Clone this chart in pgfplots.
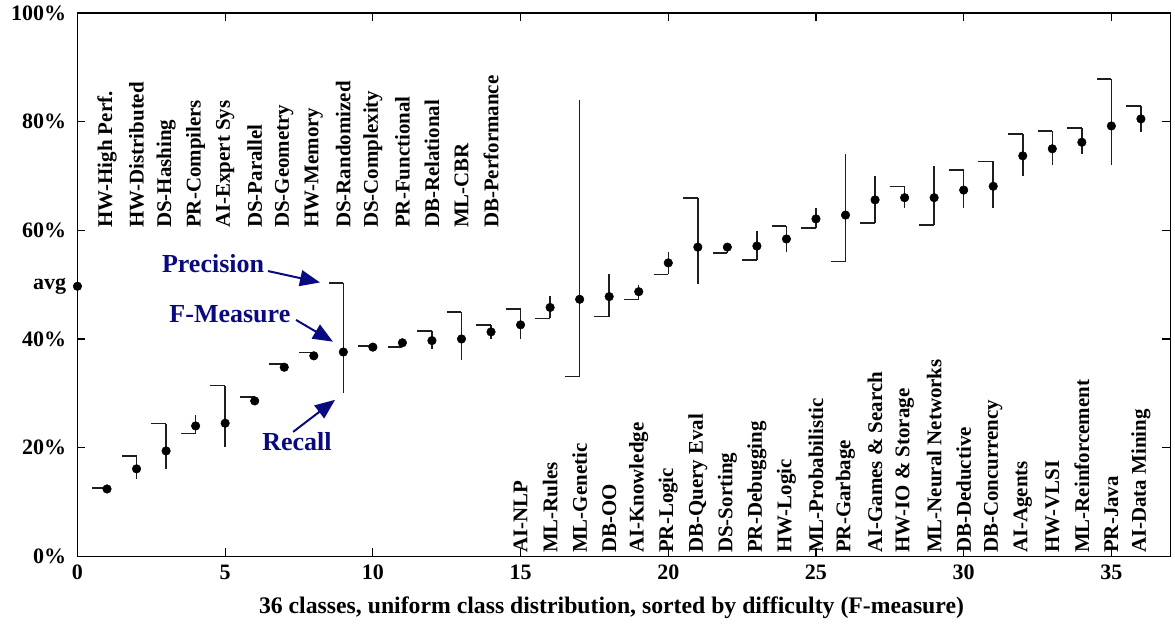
\documentclass[border=0pt]{standalone}
\usepackage{fontspec}
\setmainfont{Liberation Serif}
\usepackage{pgfplots}
\usepackage{pgfplotstable}
\pgfplotsset{compat=1.18}
\usetikzlibrary{arrows.meta}
\definecolor{annot}{RGB}{10,10,128}
\definecolor{barc}{RGB}{30,30,30}

\pgfplotstableread{
x P F R
1 12.6 12.4 12.3
2 18.5 16.1 14.3
3 24.4 19.4 16.1
4 22.6 24.0 26.1
5 31.4 24.5 20.1
6 29.3 28.6 28.2
7 35.4 34.8 34.4
8 37.5 36.9 36.4
9 50.3 37.6 30.1
10 38.7 38.5 38.3
11 38.5 39.3 40.0
12 41.5 39.7 38.1
13 45.0 40.0 36.1
14 42.6 41.3 40.0
15 45.5 42.6 40.0
16 43.8 45.8 48.0
17 33.1 47.3 84.0
18 44.1 47.8 52.0
19 47.3 48.7 50.0
20 51.9 54.0 56.0
21 65.9 56.9 50.1
22 55.8 56.9 57.6
23 54.5 57.1 59.9
24 60.8 58.4 56.0
25 60.4 62.1 64.1
26 54.3 62.8 74.0
27 61.3 65.6 70.0
28 68.1 66.0 64.1
29 61.0 66.0 71.8
30 71.1 67.4 64.1
31 72.7 68.1 64.1
32 77.7 73.7 70.0
33 78.3 75.0 72.0
34 78.8 76.2 74.0
35 87.8 79.2 72.0
36 82.9 80.5 78.1
}\data

\begin{document}
\begin{tikzpicture}[font=\bfseries]
\begin{axis}[
  scale only axis,
  width=819.75pt, height=407.55pt,
  xmin=0, xmax=37, ymin=0, ymax=100,
  clip=false,
  axis line style={line width=1.1pt},
  tick style={line width=0.9pt, black},
  major tick length=6pt,
  xtick={0,5,...,35},
  ytick={0,20,...,100},
  yticklabel={\pgfmathprintnumber{\tick}\%},
  extra y ticks={49.7},
  extra y tick labels={avg},
  extra y tick style={major tick length=0pt},
  /pgf/number format/assume math mode=true,
  ticklabel style={font=\fontsize{16.5}{19}\selectfont\bfseries},
  xticklabel style={yshift=-3pt},
  yticklabel style={xshift=-5pt},
  xlabel={36 classes, uniform class distribution, sorted by difficulty (F-measure)},
  xlabel style={font=\fontsize{17.8}{21}\selectfont\bfseries, at={(axis description cs:0.4886,0)}, anchor=center, yshift=-38.7pt},
]
% precision ticks (short horizontal segment to the left of the precision end)
\addplot[draw=none, mark=none, forget plot,
  error bars/.cd, x dir=minus, x fixed=0.5, error mark=none,
  error bar style={draw=barc, line width=1.1pt}]
  table[x=x, y=P] {\data};
% vertical precision-recall lines
\addplot[draw=none, mark=none, forget plot,
  error bars/.cd, y dir=both, y explicit, error mark=none,
  error bar style={draw=barc, line width=1.1pt}]
  table[x=x, y=F,
    y error plus expr={max(\thisrow{P},\thisrow{R})-\thisrow{F}},
    y error minus expr={\thisrow{F}-min(\thisrow{P},\thisrow{R})}] {\data};
% F-measure dots
\addplot[black, only marks, mark=*, mark size=3.2pt] table[x=x, y=F] {\data};
% average
\addplot[black, only marks, mark=*, mark size=3.2pt] coordinates {(0,49.7)};

\begin{scope}[every node/.style={rotate=90, anchor=west, inner sep=0pt, font=\fontsize{15.7}{18}\selectfont\bfseries}]
\node at (axis cs:1,60.4) {HW-High Perf.};
\node at (axis cs:2,60.4) {HW-Distributed};
\node at (axis cs:3,60.4) {DS-Hashing};
\node at (axis cs:4,60.4) {PR-Compilers};
\node at (axis cs:5,60.4) {AI-Expert Sys};
\node at (axis cs:6,60.4) {DS-Parallel};
\node at (axis cs:7,60.4) {DS-Geometry};
\node at (axis cs:8,60.4) {HW-Memory};
\node at (axis cs:9,60.4) {DS-Randomized};
\node at (axis cs:10,60.4) {DS-Complexity};
\node at (axis cs:11,60.4) {PR-Functional};
\node at (axis cs:12,60.4) {DB-Relational};
\node at (axis cs:13,60.4) {ML-CBR};
\node at (axis cs:14,60.4) {DB-Performance};
\node at (axis cs:15,0.6) {AI-NLP};
\node at (axis cs:16,0.6) {ML-Rules};
\node at (axis cs:17,0.6) {ML-Genetic};
\node at (axis cs:18,0.6) {DB-OO};
\node at (axis cs:19,0.6) {AI-Knowledge};
\node at (axis cs:20,0.6) {PR-Logic};
\node at (axis cs:21,0.6) {DB-Query Eval};
\node at (axis cs:22,0.6) {DS-Sorting};
\node at (axis cs:23,0.6) {PR-Debugging};
\node at (axis cs:24,0.6) {HW-Logic};
\node at (axis cs:25,0.6) {ML-Probabilistic};
\node at (axis cs:26,0.6) {PR-Garbage};
\node at (axis cs:27,0.6) {AI-Games \& Search};
\node at (axis cs:28,0.6) {HW-IO \& Storage};
\node at (axis cs:29,0.6) {ML-Neural Networks};
\node at (axis cs:30,0.6) {DB-Deductive};
\node at (axis cs:31,0.6) {DB-Concurrency};
\node at (axis cs:32,0.6) {AI-Agents};
\node at (axis cs:33,0.6) {HW-VLSI};
\node at (axis cs:34,0.6) {ML-Reinforcement};
\node at (axis cs:35,0.6) {PR-Java};
\node at (axis cs:36,0.6) {AI-Data Mining};
\end{scope}

\begin{scope}[every node/.style={text=annot, font=\fontsize{19.5}{23}\selectfont\bfseries}]
\node at (axis cs:4.59,53.8) {Precision};
\node at (axis cs:5.16,44.6) {F-Measure};
\node at (axis cs:7.43,21.2) {Recall};
\end{scope}
\begin{scope}[annot, line width=1.5pt, -{Triangle[length=15pt, width=12pt]}]
\draw (axis cs:6.45,52.5) -- (axis cs:8.21,50.4);
\draw (axis cs:7.40,43.5) -- (axis cs:8.65,39.5);
\draw (axis cs:7.30,22.9) -- (axis cs:8.72,28.8);
\end{scope}
\end{axis}
\pgfresetboundingbox
\path (current axis.south west) ++(-58.1pt,-54.5pt) rectangle ++(881.25pt,471.75pt);
\end{tikzpicture}
\end{document}
